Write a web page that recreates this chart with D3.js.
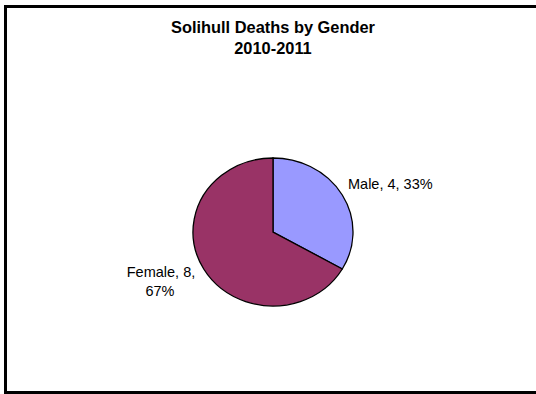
<!DOCTYPE html>
<html>
<head>
<meta charset="utf-8">
<script src="https://cdn.jsdelivr.net/npm/d3@7"></script>
<style>
  html, body { margin: 0; padding: 0; background: #fff; overflow: hidden; }
  svg { display: block; }
  text { font-family: "Liberation Sans", Arial, sans-serif; fill: #000; }
</style>
</head>
<body>
<svg id="chart" width="536" height="394"></svg>
<script>
// Solihull deaths by gender, 2010-2011
const categories = ["Male", "Female"];
const values = [4, 8];
const colors = ["#9999FF", "#993366"];
const titleLines = ["Solihull Deaths by Gender", "2010-2011"];

const svg = d3.select("#chart");

// chart frame: top, left and bottom edges (the right edge runs past the view)
const frame = d3.path();
frame.moveTo(545, 6.5);
frame.lineTo(5.5, 6.5);
frame.lineTo(5.5, 392.5);
frame.lineTo(545, 392.5);
svg.append("path")
  .attr("d", frame.toString())
  .attr("fill", "none")
  .attr("stroke", "#000")
  .attr("stroke-width", 3);

// title
svg.append("g").selectAll("text")
  .data(titleLines)
  .join("text")
  .attr("x", 273)
  .attr("y", (d, i) => 33 + i * 21)
  .attr("text-anchor", "middle")
  .attr("font-weight", "bold")
  .attr("font-size", "16.4px")
  .text(d => d);

// pie (slightly squashed vertically)
const cx = 273, cy = 232, rx = 80, ry = 74;
const total = d3.sum(values);
const pie = d3.pie().sort(null).value(d => d.value);
const arcs = pie(categories.map((c, i) => ({ name: c, value: values[i], color: colors[i] })));
const arc = d3.arc().innerRadius(0).outerRadius(rx);

const pieG = svg.append("g")
  .attr("transform", `translate(${cx},${cy}) scale(1,${ry / rx})`);

pieG.selectAll("path")
  .data(arcs)
  .join("path")
  .attr("d", arc)
  .attr("fill", d => d.data.color)
  .attr("stroke", "#000")
  .attr("stroke-width", 1.3)
  .attr("vector-effect", "non-scaling-stroke");

// data labels: "name, value, percent"
const pct = v => Math.round(v / total * 100) + "%";
const labelFont = "14.5px";

// Male label to the right
const male = arcs[0].data;
svg.append("text")
  .attr("x", 348)
  .attr("y", 189)
  .attr("font-size", labelFont)
  .text(`${male.name}, ${male.value}, ${pct(male.value)}`);

// Female label to the lower left, wrapped over two lines
const female = arcs[1].data;
const fl = svg.append("text")
  .attr("text-anchor", "middle")
  .attr("font-size", labelFont);
fl.append("tspan").attr("x", 161).attr("y", 277)
  .text(`${female.name}, ${female.value},`);
fl.append("tspan").attr("x", 160).attr("y", 296)
  .text(pct(female.value));
</script>
</body>
</html>
